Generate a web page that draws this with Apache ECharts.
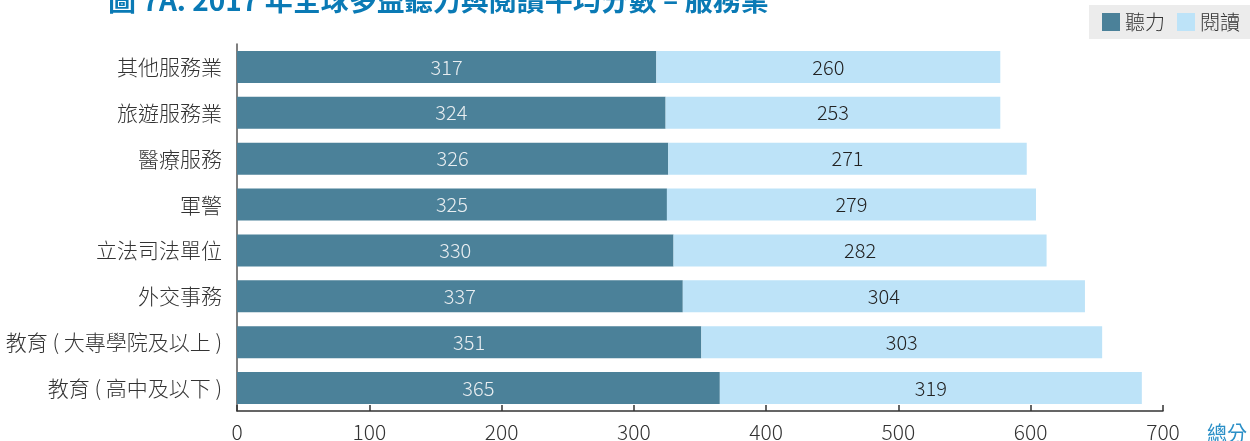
<!DOCTYPE html>
<html>
<head>
<meta charset="utf-8">
<script src="https://cdn.jsdelivr.net/npm/echarts@6/dist/echarts.min.js"></script>
<style>
  html, body { margin: 0; padding: 0; background: #fff; }
  #chart { width: 1250px; height: 441px; }
</style>
</head>
<body>
<div id="chart"></div>
<script>
// 資料（由下而上）
var categories = ['教育 ( 高中及以下 )', '教育 ( 大專學院及以上 )', '外交事務', '立法司法單位', '軍警', '醫療服務', '旅遊服務業', '其他服務業'];
var listening = [365, 351, 337, 330, 325, 326, 324, 317];
var reading = [319, 303, 304, 282, 279, 271, 253, 260];
var xTicks = [0, 100, 200, 300, 400, 500, 600, 700];

var font = '"Noto Sans CJK TC", "Noto Sans", sans-serif';
var chart = echarts.init(document.getElementById('chart'));

var option = {
  animation: false,
  textStyle: { fontFamily: font },
  title: {
    text: '圖 7A. 2017 年全球多益聽力與閱讀平均分數 – 服務業',
    left: 103,
    top: -19,
    textStyle: { color: '#0a7ab5', fontSize: 28, fontWeight: 'bold', fontFamily: font }
  },
  legend: {
    right: 0,
    top: 5,
    padding: [7, 10, 7, 13],
    backgroundColor: '#ececec',
    itemWidth: 18,
    itemHeight: 18,
    itemGap: 12,
    textStyle: { fontSize: 20, fontWeight: 300, color: '#333', padding: [0, 0, 0, 0] },
    data: [
      { name: '聽力', icon: 'rect' },
      { name: '閱讀', icon: 'rect' }
    ]
  },
  grid: { left: 237, right: 87, top: 44, bottom: 30, containLabel: false, outerBoundsMode: 'none' },
  xAxis: {
    type: 'value',
    min: 0,
    max: 700,
    interval: 100,
    name: '總分',
    nameLocation: 'end',
    nameGap: 44,
    nameTextStyle: { color: '#2a8fc7', fontSize: 20, verticalAlign: 'top', padding: [12, 0, 0, 0] },
    axisLine: { show: true, lineStyle: { color: '#333', width: 1.5 } },
    axisTick: { show: true, inside: true, length: 6, lineStyle: { color: '#333', width: 1.5 } },
    axisLabel: {
      fontSize: 21,
      fontWeight: 300,
      color: '#333',
      margin: 11,
      formatter: function (v) { return xTicks.indexOf(v) >= 0 ? String(v) : ''; }
    },
    splitLine: { show: false }
  },
  yAxis: {
    type: 'category',
    data: categories,
    axisLine: { show: true, lineStyle: { color: '#555', width: 1.5 } },
    axisTick: { show: false },
    axisLabel: { fontSize: 21, fontWeight: 300, color: '#333', margin: 15 }
  },
  series: [
    {
      name: '聽力',
      type: 'bar',
      stack: 'total',
      barWidth: 32,
      itemStyle: { color: '#4b8199' },
      label: { show: true, position: 'inside', color: '#e9eef1', fontSize: 20, fontWeight: 300 },
      data: listening
    },
    {
      name: '閱讀',
      type: 'bar',
      stack: 'total',
      barWidth: 32,
      itemStyle: { color: '#bde3f8' },
      label: { show: true, position: 'inside', color: '#222', fontSize: 20, fontWeight: 300 },
      data: reading
    }
  ]
};

chart.setOption(option);
</script>
</body>
</html>
